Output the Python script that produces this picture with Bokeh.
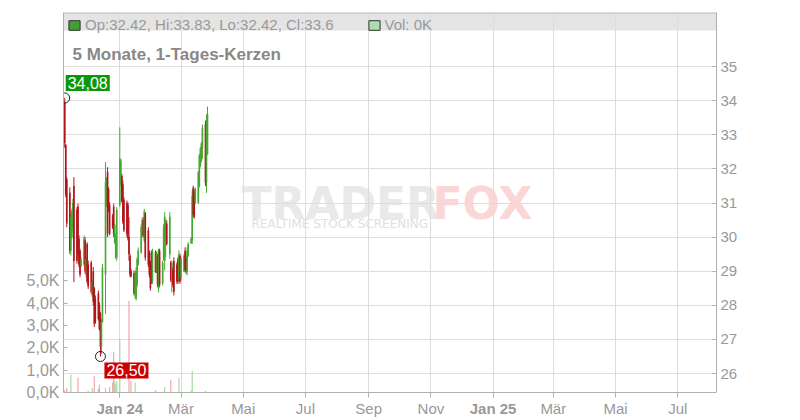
import numpy as np
import pandas as pd
from datetime import datetime
from bokeh.plotting import figure
from bokeh.models import (Range1d, LinearAxis, DatetimeAxis, FixedTicker, Label, BoxAnnotation,
                          Legend, LegendItem, ColumnDataSource, Span)
from bokeh.embed import file_html
from bokeh.resources import INLINE

# ---------------- data ----------------
start_date = "2023-11-08"
opens = [33.95, 32.70, 31.70, 31.30, 29.60, 30.00, 30.30, 31.50, 30.80, 30.90,
         29.95, 29.60, 29.15, 29.20, 29.90, 28.90, 29.80, 29.20, 29.25, 28.30,
         29.00, 28.50, 28.20, 28.35, 28.00, 27.75, 26.80, 27.50, 28.90, 30.90,
         31.90, 31.40, 30.95, 30.60, 30.90, 29.85, 29.40, 29.40, 30.95, 31.55,
         31.80, 31.55, 31.10, 31.00, 30.95, 30.00, 29.45, 29.00, 28.95, 28.30,
         28.20, 28.60, 29.20, 29.55, 30.05, 30.50, 29.90, 30.70, 30.20, 29.55,
         29.25, 29.55, 28.70, 29.55, 29.00, 29.45, 28.50, 29.60, 28.65, 29.35,
         29.30, 29.90, 30.40, 29.50, 29.25, 28.70, 29.05, 29.30, 29.20, 29.35,
         28.75, 29.45, 28.80, 29.00, 29.60, 29.40, 29.00, 29.45, 29.82, 29.90,
         31.45, 31.30, 31.00, 31.00, 31.50, 32.10, 32.25, 32.60, 33.30, 31.60,
         32.42]
highs = [34.08, 32.73, 31.76, 31.46, 30.68, 30.83, 31.12, 31.76, 30.88, 30.98,
         30.05, 29.66, 29.41, 30.05, 30.00, 29.41, 29.85, 29.31, 29.31, 28.73,
         29.12, 28.53, 28.29, 28.43, 28.09, 27.80, 27.60, 29.21, 32.20, 31.76,
         32.05, 31.46, 31.02, 30.68, 30.98, 30.39, 30.10, 30.88, 33.22, 32.30,
         31.86, 31.66, 31.17, 31.07, 31.02, 30.58, 29.51, 29.07, 29.02, 29.02,
         29.12, 29.41, 29.70, 30.39, 30.58, 30.58, 30.83, 30.73, 30.29, 29.61,
         29.31, 29.61, 29.66, 29.61, 29.58, 29.51, 29.66, 29.66, 29.31, 30.39,
         30.73, 30.54, 30.49, 30.73, 29.31, 29.31, 29.12, 29.41, 29.26, 29.41,
         29.61, 29.51, 29.41, 29.51, 29.70, 29.46, 29.70, 29.85, 30.00, 31.37,
         31.51, 31.41, 31.46, 31.95, 32.44, 32.64, 32.79, 33.30, 33.42, 33.60,
         33.83]
lows = [32.62, 31.17, 30.29, 29.51, 29.46, 29.95, 30.19, 28.68, 29.22, 29.41,
        29.12, 28.82, 29.12, 29.17, 28.92, 28.82, 28.63, 28.48, 28.33, 28.24,
        27.99, 27.36, 27.46, 27.55, 27.26, 26.50, 26.57, 27.50, 27.75, 30.88,
        30.00, 30.73, 30.05, 30.24, 30.00, 29.80, 29.36, 29.31, 30.88, 31.50,
        31.02, 30.39, 30.15, 30.00, 29.90, 29.31, 28.82, 28.82, 28.29, 28.19,
        28.14, 28.53, 29.17, 29.51, 30.00, 30.00, 29.85, 29.31, 29.12, 28.82,
        28.43, 28.63, 28.63, 28.95, 28.95, 28.53, 28.38, 28.53, 28.58, 29.31,
        29.02, 29.41, 29.75, 29.36, 28.68, 28.38, 28.53, 28.29, 28.63, 28.63,
        28.68, 28.63, 28.73, 28.97, 28.97, 28.92, 28.88, 29.41, 29.80, 29.80,
        30.58, 30.54, 30.98, 30.98, 31.46, 32.05, 32.20, 32.30, 31.50, 31.30,
        32.42]
closes = [32.75, 31.25, 30.40, 29.60, 30.60, 30.75, 31.00, 29.30, 29.30, 29.50,
          29.20, 28.90, 29.35, 29.95, 29.00, 29.35, 28.70, 28.55, 28.40, 28.70,
          28.10, 27.45, 27.50, 27.60, 27.30, 26.80, 27.50, 29.10, 31.60, 31.60,
          30.10, 30.80, 30.10, 30.30, 30.10, 30.35, 30.00, 30.80, 32.30, 32.25,
          31.05, 30.45, 30.20, 30.10, 29.95, 29.50, 28.90, 28.85, 28.35, 28.95,
          29.00, 29.35, 29.60, 30.30, 30.50, 30.05, 30.75, 29.40, 29.20, 28.90,
          28.50, 28.70, 29.60, 28.98, 29.55, 28.60, 29.60, 28.60, 29.25, 30.30,
          30.60, 30.45, 29.80, 30.60, 28.75, 29.25, 28.60, 28.40, 28.70, 28.70,
          29.50, 28.70, 29.35, 29.45, 29.05, 29.00, 29.60, 29.80, 29.97, 31.20,
          30.65, 30.60, 31.40, 31.90, 32.40, 32.60, 32.75, 33.20, 31.60, 33.40,
          33.60]
volumes = [100, 0, 200, 0, 800, 0, 0, 0, 0, 670,
           0, 0, 0, 0, 0, 0, 0, 80, 0, 200,
           0, 730, 0, 160, 360, 0, 0, 0, 200, 0,
           0, 0, 250, 450, 1800, 500, 350, 500, 2400, 0,
           0, 0, 0, 0, 0, 4100, 0, 500, 0, 450,
           0, 0, 0, 0, 0, 0, 0, 0, 0, 0,
           0, 0, 0, 100, 0, 0, 0, 0, 0, 0,
           250, 0, 0, 0, 570, 0, 0, 0, 0, 0,
           650, 0, 0, 0, 0, 0, 0, 0, 100, 980,
           0, 0, 0, 0, 0, 0, 0, 0, 70, 0,
           0]

price_ticks = [26, 27, 28, 29, 30, 31, 32, 33, 34, 35]
vol_ticks = [0, 1000, 2000, 3000, 4000, 5000]
vol_tick_labels = ["0,0K", "1,0K", "2,0K", "3,0K", "4,0K", "5,0K"]
month_ticks = ["2024-01-01", "2024-03-01", "2024-05-01", "2024-07-01", "2024-09-01",
               "2024-11-01", "2025-01-01", "2025-03-01", "2025-05-01", "2025-07-01"]
month_labels = ["Jan 24", "Mär", "Mai", "Jul", "Sep", "Nov", "Jan 25", "Mär", "Mai", "Jul"]
bold_month_labels = ["Jan 24", "Jan 25"]
legend_ohlc = "Op:32.42, Hi:33.83, Lo:32.42, Cl:33.6"
legend_vol = "Vol: 0K"
chart_title = "5 Monate, 1-Tages-Kerzen"

# ---------------- styling ----------------
FONT = "Liberation Sans"
UP, DOWN = "#46a832", "#b3141c"
VUP, VDOWN = "#a8dba2", "#f2a7ad"
GRID = "#dddddd"
AXIS = "#b0b0b0"
TXT = "#999999"
DAY = 86400000

# price scale: plot floor (where the time axis sits) and top; the frame continues
# below the floor so that the time-axis labels live inside it
PRICE_FLOOR, PRICE_TOP, PRICE_BOTTOM = 25.443, 36.587, 24.622
VOL_TOP, VOL_BOTTOM = 17040, -1256

dates = pd.bdate_range(start_date, periods=len(opens))
o = np.array(opens); c = np.array(closes)
up = c >= o
src = ColumnDataSource(dict(
    date=dates, high=highs, low=lows,
    btop=np.maximum(o, c), bbot=np.minimum(o, c),
    color=[UP if u else DOWN for u in up],
    vcolor=[VUP if u else VDOWN for u in up],
    vol=volumes))

p = figure(x_axis_type="datetime", width=800, height=420,
           x_range=Range1d(datetime(2023, 11, 6, 19, 12), datetime(2025, 8, 8)),
           y_range=Range1d(PRICE_BOTTOM, PRICE_TOP),
           y_axis_location="right",
           output_backend="svg", toolbar_location=None,
           min_border_left=63, min_border_right=84, min_border_top=12, min_border_bottom=0)
p.extra_y_ranges = {"vol": Range1d(VOL_BOTTOM, VOL_TOP)}
p.outline_line_color = None
p.background_fill_color = "white"
p.border_fill_color = "white"

# header band
p.add_layout(BoxAnnotation(bottom=36.059, fill_color="#e4e4e4", fill_alpha=1,
                           line_color=None, level="image"))

# axes
tick_ms = [int(pd.Timestamp(d).value // 10**6) for d in month_ticks]
xt = FixedTicker(ticks=tick_ms)
xaxis = p.xaxis[0]
xaxis.ticker = xt
xaxis.fixed_location = PRICE_FLOOR
p.xgrid.ticker = xt
xaxis.major_label_overrides = {t: ("" if l in bold_month_labels else l)
                               for t, l in zip(tick_ms, month_labels)}
yt = FixedTicker(ticks=price_ticks)
yaxis = p.yaxis[0]
yaxis.ticker = yt
yaxis.bounds = (PRICE_FLOOR, PRICE_TOP)
p.ygrid.ticker = yt

vaxis = LinearAxis(y_range_name="vol", ticker=FixedTicker(ticks=vol_ticks),
                   major_label_overrides=dict(zip(vol_ticks, vol_tick_labels)),
                   bounds=(0, VOL_TOP))
p.add_layout(vaxis, "left")

bold_ticks = [t for t, l in zip(tick_ms, month_labels) if l in bold_month_labels]
xaxis_bold = DatetimeAxis(ticker=FixedTicker(ticks=bold_ticks),
                          major_label_overrides={t: l for t, l in zip(tick_ms, month_labels)
                                                 if l in bold_month_labels},
                          fixed_location=PRICE_FLOOR)
p.add_layout(xaxis_bold, "below")

for ax in (xaxis, yaxis, vaxis, xaxis_bold):
    ax.axis_line_color = AXIS
    ax.major_tick_line_color = AXIS
    ax.minor_tick_line_color = None
    ax.major_label_text_color = TXT
    ax.major_label_text_font = FONT
for ax in (xaxis, xaxis_bold):
    ax.major_tick_in = 0
    ax.major_tick_out = 5
    ax.major_label_standoff = 2
    ax.major_label_text_font_size = "15px"
xaxis_bold.axis_line_color = None
xaxis_bold.major_label_text_font_style = "bold"
yaxis.major_tick_in = 4
yaxis.major_tick_out = 0
yaxis.major_label_standoff = 4
yaxis.major_label_text_font_size = "15px"
vaxis.major_tick_in = 4
vaxis.major_tick_out = 0
vaxis.major_label_standoff = 4
vaxis.major_label_text_font_size = "16px"

p.xgrid.grid_line_color = GRID
p.ygrid.grid_line_color = GRID
# blank strip under the time axis (hides the grid there)
p.add_layout(BoxAnnotation(top=PRICE_FLOOR, fill_color="white", fill_alpha=1,
                           line_color=None, level="underlay"))
# top border of the panel
p.add_layout(Span(location=PRICE_TOP, dimension="width", line_color="#bbbbbb",
                  line_width=2))

# watermark
p.add_layout(Label(x=178, y=30.985, x_units="screen", y_units="data", text="TRADER",
                   text_font="DejaVu Sans", text_font_style="bold", text_font_size="44px",
                   text_color="#e9e9e9", text_baseline="alphabetic", level="image"))
p.add_layout(Label(x=369, y=30.985, x_units="screen", y_units="data", text="FOX",
                   text_font="DejaVu Sans", text_font_style="bold", text_font_size="44px",
                   text_color="#fbd6d6", text_baseline="alphabetic", level="image"))
p.add_layout(Label(x=188, y=30.37, x_units="screen", y_units="data",
                   text="REALTIME STOCK SCREENING",
                   text_font="DejaVu Sans", text_font_size="12px",
                   text_color="#e0e0e0", text_baseline="alphabetic", level="image"))

# volume & candles
p.vbar(x="date", width=DAY * 1.2, top="vol", bottom=0, fill_color="vcolor",
       line_color=None, y_range_name="vol", source=src)
p.segment(x0="date", y0="low", x1="date", y1="high", line_color="color",
          line_width=1, source=src)
p.vbar(x="date", width=DAY * 1.6, top="btop", bottom="bbot", fill_color="color",
       line_color=None, source=src)

# extremes
imax = int(np.argmax(highs)); imin = int(np.argmin(lows))
p.scatter(x=[dates[imax], dates[imin]], y=[highs[imax], lows[imin]], size=10,
          marker="circle", fill_color=None, line_color="#222222", line_width=1)
p.add_layout(Label(x=dates[imax], y=highs[imax], x_offset=1, y_offset=7,
                   text=f"{highs[imax]:.2f}".replace(".", ","),
                   text_font=FONT, text_font_size="16px", text_color="white",
                   text_baseline="bottom", background_fill_color="#0c960c",
                   padding=2))
p.add_layout(Label(x=dates[imin], y=lows[imin], x_offset=4, y_offset=-6,
                   text=f"{lows[imin]:.2f}".replace(".", ","),
                   text_font=FONT, text_font_size="16px", text_color="white",
                   text_baseline="top", background_fill_color="#cc0000",
                   padding=2))

# title inside plot
p.add_layout(Label(x=9, y=35.355, x_units="screen", y_units="data", text=chart_title,
                   text_font=FONT, text_font_style="bold", text_font_size="17px",
                   text_color="#888888", text_baseline="alphabetic"))

# header legend: swatches are hidden boxes built from the last session
last = len(opens) - 1
sw_candle = p.quad(left=[dates[last]], right=[dates[last]], top=[closes[last]],
                   bottom=[opens[last]], fill_color="#3f9f2f", line_color="#333333",
                   visible=False)
sw_vol = p.quad(left=[dates[last]], right=[dates[last]], top=[volumes[last]],
                bottom=[0], fill_color="#aedcab", line_color="#333333",
                y_range_name="vol", visible=False)
legend = Legend(items=[LegendItem(label=legend_ohlc, renderers=[sw_candle]),
                       LegendItem(label=legend_vol, renderers=[sw_vol])],
                orientation="horizontal", location="top_left",
                background_fill_alpha=0, border_line_alpha=0,
                inactive_fill_alpha=0,
                glyph_width=14, glyph_height=12, label_standoff=4, spacing=33,
                margin=0, padding=4, label_height=10,
                label_text_baseline="alphabetic",
                label_text_font=FONT, label_text_font_size="15px",
                label_text_color=TXT)
p.add_layout(legend)

open("out.html", "w").write(file_html(p, INLINE))
